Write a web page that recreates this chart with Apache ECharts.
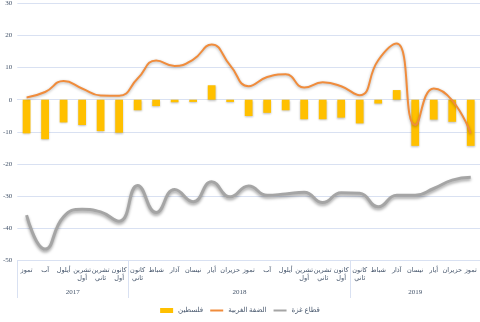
<!DOCTYPE html>
<html>
<head>
<meta charset="utf-8">
<script src="https://cdn.jsdelivr.net/npm/echarts@6/dist/echarts.min.js"></script>
<style>html,body{margin:0;padding:0;background:#fff;}#c{width:480px;height:322px;}</style>
</head>
<body>
<div id="c"></div>
<script>
const months = ['تموز','آب','أيلول','تشرين\nأول','تشرين\nثاني','كانون\nأول',
  'كانون\nثاني','شباط','آذار','نيسان','أيار','حزيران','تموز','آب','أيلول','تشرين\nأول','تشرين\nثاني','كانون\nأول',
  'كانون\nثاني','شباط','آذار','نيسان','أيار','حزيران','تموز'];
const years = ['2017','2018','2019'];
const yearCounts = [6, 12, 7];
const palestine = [-10.5,-12.3,-7.1,-7.9,-9.8,-10.3,-3.3,-2.0,-0.8,-0.7,4.5,-0.7,-5.1,-4.1,-3.3,-6.1,-6.1,-5.6,-7.4,-1.2,3.0,-14.4,-6.2,-6.9,-14.4];
const westBank = [0.7,2.4,5.8,3.5,1.3,1.2,6.6,12.2,10.5,12.5,17.2,10.7,4.2,7.1,7.9,3.8,5.4,4.2,1.4,12.3,17.5,-7.9,3.5,-0.2,-10.5];
const gaza = [-36,-46.6,-36.5,-34.2,-35,-37.9,-26.8,-35.2,-28,-31.8,-25.6,-30.3,-26.9,-29.8,-29.4,-28.9,-32.1,-29,-29.2,-33.4,-29.8,-29.8,-27.7,-25.1,-24.2];
const seriesNames = ['فلسطين','الضفة الغربية','قطاع غزة'];
const yTicks = {min: -50, max: 30, interval: 10};

// half-slot positions for year group axis (boundaries every 0.5 category)
const yearSlots = new Array(months.length * 2 + 1).fill('');
const tickIdx = new Set([0]);
let acc = 0;
years.forEach((y, k) => {
  const mid = acc * 2 + yearCounts[k];
  yearSlots[mid] = y;
  acc += yearCounts[k];
  tickIdx.add(acc * 2);
});

const font = 'Liberation Serif, DejaVu Serif, DejaVu Sans, serif';
const labelColor = '#44546A';
const lightLine = '#D9E1F2';

const chart = echarts.init(document.getElementById('c'));
chart.setOption({
  animation: false,
  textStyle: {fontFamily: font},
  grid: {left: 12, right: -3, top: 3, bottom: 62, containLabel: false},
  legend: {
    data: [
      {name: seriesNames[0], icon: 'rect'},
      {name: seriesNames[1], itemStyle: {opacity: 0}},
      {name: seriesNames[2], itemStyle: {opacity: 0}}
    ],
    top: 302, left: 'center', itemWidth: 13, itemHeight: 5, itemGap: 6,
    textStyle: {fontSize: 7, color: labelColor, fontFamily: font}
  },
  xAxis: [
    {
      type: 'category', data: months, position: 'bottom',
      axisLine: {lineStyle: {color: lightLine}},
      axisTick: {show: false},
      axisLabel: {interval: 0, fontSize: 6.5, color: labelColor, margin: 6, lineHeight: 8, fontFamily: font}
    },
    {
      type: 'category', data: yearSlots, position: 'bottom', boundaryGap: false,
      axisLine: {show: false},
      axisTick: {show: true, length: 38, interval: (i) => tickIdx.has(i), lineStyle: {color: lightLine}},
      axisLabel: {interval: (i) => yearSlots[i] !== '', fontSize: 7, color: labelColor, margin: 29, fontFamily: font}
    }
  ],
  yAxis: {
    type: 'value', min: yTicks.min, max: yTicks.max, interval: yTicks.interval,
    axisLine: {show: false}, axisTick: {show: false},
    axisLabel: {fontSize: 7, color: labelColor, margin: 5, fontFamily: font},
    splitLine: {lineStyle: {color: lightLine, width: 1}}
  },
  series: [
    {
      name: seriesNames[0], type: 'bar', data: palestine, xAxisIndex: 0, barWidth: '42%',
      itemStyle: {color: '#FFC000', shadowColor: 'rgba(0,0,0,0.25)', shadowBlur: 2, shadowOffsetY: 1}
    },
    {
      name: seriesNames[1], type: 'line', data: westBank, xAxisIndex: 0, smooth: 0.5,
      symbol: 'none', z: 3,
      itemStyle: {color: '#F08C3C'},
      lineStyle: {color: '#F08C3C', width: 2, shadowColor: 'rgba(0,0,0,0.3)', shadowBlur: 3, shadowOffsetY: 1}
    },
    {
      name: seriesNames[2], type: 'line', data: gaza, xAxisIndex: 0, smooth: 0.5,
      symbol: 'none', z: 3,
      itemStyle: {color: '#A5A5A5'},
      lineStyle: {color: '#A5A5A5', width: 3, shadowColor: 'rgba(0,0,0,0.35)', shadowBlur: 3, shadowOffsetY: 2}
    }
  ]
});
</script>
</body>
</html>
